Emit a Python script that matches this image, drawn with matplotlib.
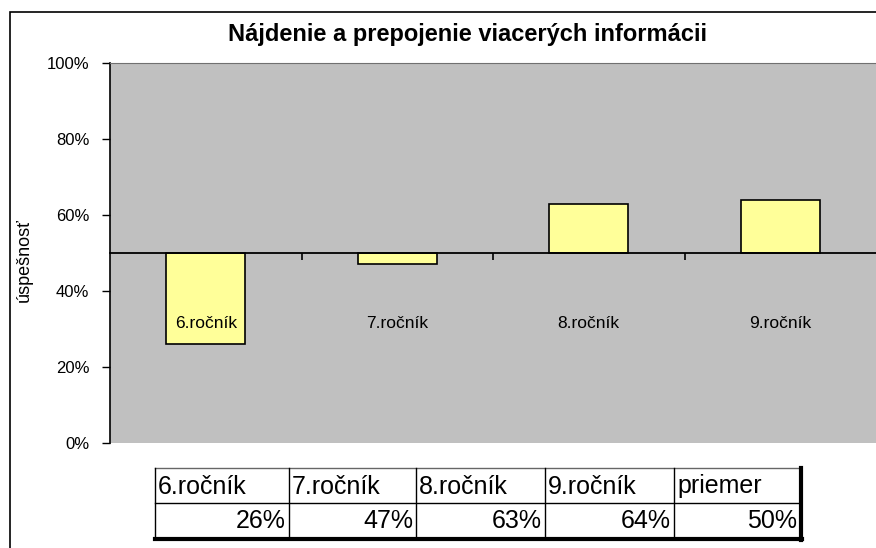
import matplotlib.pyplot as plt
from matplotlib.patches import Rectangle

plt.rcParams['font.family'] = ['Liberation Sans', 'DejaVu Sans']

categories = ['6.ročník', '7.ročník', '8.ročník', '9.ročník']
values = [26, 47, 63, 64]
average_label = 'priemer'
average = 50
title = 'Nájdenie a prepojenie viacerých informácii'
ylabel = 'úspešnosť'
yticks = [0, 20, 40, 60, 80, 100]

W, H = 876, 548
fig = plt.figure(figsize=(W / 100, H / 100), dpi=100)

# outer chart frame
fig.add_artist(Rectangle((10 / W, -0.1), 1.2, (H - 12) / H + 0.1, transform=fig.transFigure,
                         fill=False, edgecolor='black', lw=1.2))

ax = fig.add_axes([110 / W, (H - 443) / H, 766 / W, 380 / H])
ax.set_facecolor('#c0c0c0')
x = list(range(len(categories)))
ax.bar(x, [v - average for v in values], bottom=average, width=0.41,
       color='#ffff99', edgecolor='black', lw=1.2, zorder=3)

ax.set_xlim(-0.5, len(categories) - 0.5)
ax.set_ylim(0, 100)
ax.set_yticks(yticks)
ax.set_yticklabels([f'{t}%' for t in yticks], fontsize=12)
ax.tick_params(axis='y', direction='out', length=6, width=1, pad=9)

# category axis crosses at the average
ax.spines['bottom'].set_position(('data', average))
ax.spines['bottom'].set_linewidth(1.3)
ax.spines['bottom'].set_zorder(4)
ax.set_xticks([])
ax.set_xticks([i + 0.5 for i in x[:-1]], minor=True)
ax.tick_params(axis='x', which='minor', direction='out', length=5, width=1.2)
for i, c in zip(x, categories):
    ax.text(i, 31.5, c, ha='center', va='center', fontsize=12.5, zorder=5)

ax.spines['left'].set_linewidth(1.2)
ax.spines['top'].set_color('#707070')
ax.spines['right'].set_visible(False)

fig.text(467 / W, 1 - 34 / H, title, ha='center', va='center', fontsize=17, fontweight='bold')
fig.text(24 / W, 1 - 260 / H, ylabel, ha='center', va='center', rotation=90, fontsize=13)

# data table under the chart
tab = fig.add_axes([0, 0, 1, 1], facecolor='none')
tab.set_xlim(0, W)
tab.set_ylim(H, 0)
tab.axis('off')
cols = [155, 289, 416, 545, 674, 800]
top, mid, bot = 468, 503, 538
labels = categories + [average_label]
nums = [f'{v}%' for v in values + [average]]
tab.add_patch(Rectangle((cols[0], top), cols[-1] - cols[0], bot - top, facecolor='white',
                        edgecolor='none'))
tab.plot([cols[0], cols[-1]], [top, top], color='#666666', lw=1)
tab.plot([cols[0], cols[-1]], [mid, mid], color='black', lw=1)
tab.plot([cols[0], cols[-1] + 2], [bot + 1, bot + 1], color='black', lw=3)
for cx in cols[:-1]:
    tab.plot([cx, cx], [top, bot], color='black', lw=1)
tab.plot([cols[-1] + 1, cols[-1] + 1], [top, bot + 2], color='black', lw=3)
for i in range(len(labels)):
    tab.text(cols[i] + 3, (top + mid) / 2 + 1, labels[i], ha='left', va='center', fontsize=18)
    tab.text(cols[i + 1] - 3, (mid + bot) / 2 + 1, nums[i], ha='right', va='center', fontsize=18)

fig.savefig('out.png', dpi=100)
